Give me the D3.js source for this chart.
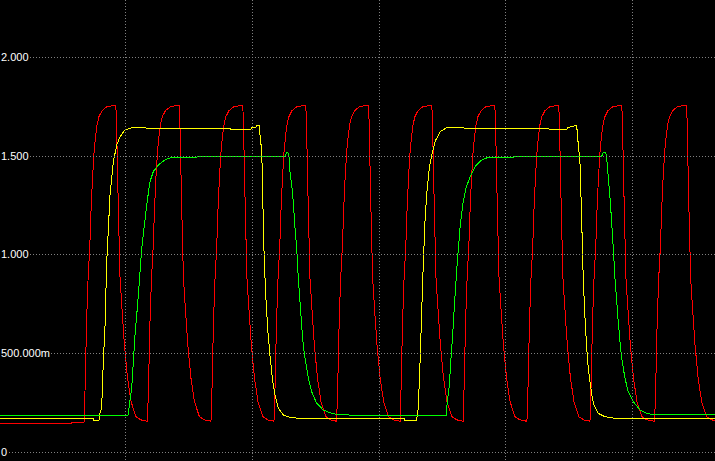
<!DOCTYPE html>
<html>
<head>
<meta charset="utf-8">
<script src="https://cdn.jsdelivr.net/npm/d3@7"></script>
<style>
  html, body { margin: 0; padding: 0; background: #000; }
  svg { display: block; }
</style>
</head>
<body>
<svg id="chart" width="715" height="461"></svg>
<script>
// ---- data (time in ns, voltage in V) ----
const yTickValues = [0, 0.5, 1.0, 1.5, 2.0];
const yTickLabels = ["0", "500.000m", "1.000", "1.500", "2.000"];
const timeGridValues = [100, 200, 300, 400, 500];

const redTrace = [
  [0,0.147],[57.8,0.147],[57.8,0.152],[66.9,0.152],
  [67.3,0.155],[68.1,0.32],[69.3,0.66],[70.5,0.88],[71.9,1.05],[72.8,1.22],[74.0,1.39],[75.2,1.52],[76.4,1.60],[77.6,1.66],[79.1,1.70],[81.5,1.73],[85.4,1.75],[92.3,1.758],[92.8,1.70],[93.3,1.55],[94.4,1.22],[95.7,0.88],[97.7,0.68],[99.2,0.54],[101.6,0.376],[104.4,0.256],[108.3,0.18],[112.3,0.164],
  [117.3,0.157],[118.1,0.32],[119.3,0.66],[120.5,0.88],[121.9,1.05],[122.8,1.22],[124.0,1.39],[125.2,1.52],[126.4,1.60],[127.6,1.66],[129.1,1.70],[131.5,1.73],[135.4,1.75],[142.3,1.758],[142.8,1.70],[143.3,1.55],[144.4,1.22],[145.7,0.88],[147.7,0.68],[149.2,0.54],[151.6,0.376],[154.4,0.256],[158.3,0.18],[162.3,0.164],
  [167.4,0.157],[168.2,0.32],[169.4,0.66],[170.6,0.88],[172.0,1.05],[172.9,1.22],[174.1,1.39],[175.3,1.52],[176.5,1.60],[177.7,1.66],[179.2,1.70],[181.6,1.73],[185.5,1.75],[192.4,1.758],[192.9,1.70],[193.4,1.55],[194.5,1.22],[195.8,0.88],[197.8,0.68],[199.3,0.54],[201.7,0.376],[204.5,0.256],[208.4,0.18],[212.4,0.164],
  [217.1,0.157],[217.9,0.32],[219.1,0.66],[220.3,0.88],[221.7,1.05],[222.6,1.22],[223.8,1.39],[225.0,1.52],[226.2,1.60],[227.4,1.66],[228.9,1.70],[231.3,1.73],[235.2,1.75],[242.1,1.758],[242.6,1.70],[243.1,1.55],[244.2,1.22],[245.5,0.88],[247.5,0.68],[249.0,0.54],[251.4,0.376],[254.2,0.256],[258.1,0.18],[262.1,0.164],
  [266.5,0.157],[267.3,0.32],[268.5,0.66],[269.7,0.88],[271.1,1.05],[272.0,1.22],[273.2,1.39],[274.4,1.52],[275.6,1.60],[276.8,1.66],[278.3,1.70],[280.7,1.73],[284.6,1.75],[291.5,1.758],[292.0,1.70],[292.5,1.55],[293.6,1.22],[294.9,0.88],[296.9,0.68],[298.4,0.54],[300.8,0.376],[303.6,0.256],[307.5,0.18],[311.5,0.164],
  [316.5,0.157],[317.3,0.32],[318.5,0.66],[319.7,0.88],[321.1,1.05],[322.0,1.22],[323.2,1.39],[324.4,1.52],[325.6,1.60],[326.8,1.66],[328.3,1.70],[330.7,1.73],[334.6,1.75],[341.5,1.758],[342.0,1.70],[342.5,1.55],[343.6,1.22],[344.9,0.88],[346.9,0.68],[348.4,0.54],[350.8,0.376],[353.6,0.256],[357.5,0.18],[361.5,0.164],
  [366.2,0.157],[367.0,0.32],[368.2,0.66],[369.4,0.88],[370.8,1.05],[371.7,1.22],[372.9,1.39],[374.1,1.52],[375.3,1.60],[376.5,1.66],[378.0,1.70],[380.4,1.73],[384.3,1.75],[391.2,1.758],[391.7,1.70],[392.2,1.55],[393.3,1.22],[394.6,0.88],[396.6,0.68],[398.1,0.54],[400.5,0.376],[403.3,0.256],[407.2,0.18],[411.2,0.164],
  [416.6,0.157],[417.4,0.32],[418.6,0.66],[419.8,0.88],[421.2,1.05],[422.1,1.22],[423.3,1.39],[424.5,1.52],[425.7,1.60],[426.9,1.66],[428.4,1.70],[430.8,1.73],[434.7,1.75],[441.6,1.758],[442.1,1.70],[442.6,1.55],[443.7,1.22],[445.0,0.88],[447.0,0.68],[448.5,0.54],[450.9,0.376],[453.7,0.256],[457.6,0.18],[461.6,0.164],
  [466.3,0.157],[467.1,0.32],[468.3,0.66],[469.5,0.88],[470.9,1.05],[471.8,1.22],[473.0,1.39],[474.2,1.52],[475.4,1.60],[476.6,1.66],[478.1,1.70],[480.5,1.73],[484.4,1.75],[491.3,1.758],[491.8,1.70],[492.3,1.55],[493.4,1.22],[494.7,0.88],[496.7,0.68],[498.2,0.54],[500.6,0.376],[503.4,0.256],[507.3,0.18],[511.3,0.164],
  [517.3,0.157],[518.1,0.32],[519.3,0.66],[520.5,0.88],[521.9,1.05],[522.8,1.22],[524.0,1.39],[525.2,1.52],[526.4,1.60],[527.6,1.66],[529.1,1.70],[531.5,1.73],[535.4,1.75],[542.3,1.758],[542.8,1.70],[543.3,1.55],[544.4,1.22],[545.7,0.88],[547.7,0.68],[549.2,0.54],[551.6,0.376],[554.4,0.256],[558.3,0.18],[562.3,0.164],
  [565,0.162]
];

const yellowTrace = [
  [0,0.169],[74.4,0.169],[74.4,0.162],[79.1,0.162],[79.9,0.20],[81.2,0.224],[82.5,0.459],[83.8,0.629],[85.2,0.965],[87.8,1.303],[90.4,1.471],[93.1,1.556],[95.7,1.598],[99.6,1.632],[106.1,1.646],[115.4,1.646],[116.7,1.641],[182.4,1.641],[182.8,1.635],[199.0,1.635],[199.4,1.645],[202.9,1.645],[203.3,1.656],[205.3,1.656],
  [206.9,1.556],[207.9,1.438],[208.7,1.134],[209.5,0.965],[210.6,0.796],[212.1,0.628],[213.9,0.493],[215.8,0.375],[217.9,0.29],[220.5,0.223],[224.5,0.189],[229.7,0.177],[241.6,0.169],[320.4,0.169],[320.4,0.162],[329.6,0.162],
  [330.9,0.224],[332.3,0.459],[333.6,0.712],[334.9,0.965],[336.2,1.168],[337.5,1.303],[339.6,1.438],[341.5,1.505],[344.1,1.573],[348.0,1.623],[353.3,1.644],[366.4,1.644],[367.7,1.638],[433.4,1.638],[434.8,1.635],[447.9,1.635],[449.2,1.646],[453.2,1.649],[454.5,1.656],[455.8,1.656],
  [457.1,1.556],[458.4,1.471],[459.2,1.303],[460.3,1.05],[461.0,0.881],[462.4,0.678],[463.7,0.527],[465.0,0.425],[466.3,0.358],[467.7,0.29],[469.5,0.24],[472.9,0.197],[478.2,0.18],[486.0,0.172],[492.6,0.169],[565,0.169]
];

const greenTrace = [
  [0,0.187],[101.2,0.187],[102.2,0.19],[103.0,0.24],[104.9,0.324],[106.2,0.459],[107.5,0.594],[109.3,0.729],[110.9,0.864],[112.8,1.033],[114.6,1.134],[116.7,1.252],[119.3,1.37],[121.9,1.421],[125.9,1.455],[131.1,1.48],[136.4,1.494],[156.1,1.494],[157.4,1.499],[225.8,1.499],[227.0,1.517],[228.1,1.517],
  [229.2,1.489],[229.7,1.421],[231.1,1.353],[232.3,1.269],[233.7,1.134],[235.0,1.033],[236.3,0.881],[237.6,0.763],[238.9,0.645],[240.2,0.543],[241.6,0.476],[244.2,0.375],[246.8,0.307],[250.8,0.248],[256.0,0.214],[262.6,0.197],[269.2,0.189],[352.8,0.187],
  [353.8,0.256],[355.4,0.341],[356.5,0.459],[358.0,0.594],[359.9,0.796],[361.7,0.965],[363.8,1.134],[365.9,1.252],[368.5,1.337],[371.7,1.395],[375.6,1.446],[380.9,1.48],[386.1,1.494],[405.8,1.494],[407.2,1.499],[475.6,1.499],[476.8,1.519],[478.7,1.519],
  [479.5,1.489],[480.8,1.387],[482.1,1.286],[483.4,1.168],[484.7,1.033],[486.0,0.881],[487.4,0.763],[488.6,0.661],[490.0,0.56],[491.3,0.476],[493.9,0.375],[496.5,0.307],[500.5,0.256],[505.8,0.214],[511.0,0.197],[517.6,0.189],[565,0.189]
];

const traces = [
  { name: "red", color: "#ff0000", values: redTrace },
  { name: "yellow", color: "#ffff00", values: yellowTrace },
  { name: "green", color: "#00ff00", values: greenTrace }
];

// ---- drawing ----
const W = 715, H = 461;
const svg = d3.select("#chart");
svg.append("rect").attr("width", W).attr("height", H).attr("fill", "#000");

const x = d3.scaleLinear().domain([0, 500]).range([-1.3, 632.7]);
const y = d3.scaleLinear().domain([0, 2]).range([452.3, 57.3]);

const line = d3.line().x(d => x(d[0])).y(d => y(d[1]));

const gTraces = svg.append("g");
gTraces.selectAll("path").data(traces).enter().append("path")
  .attr("d", d => line(d.values))
  .attr("fill", "none")
  .attr("stroke", d => d.color)
  .attr("stroke-width", 1)
  .attr("shape-rendering", "crispEdges");

const gGrid = svg.append("g");
const gLabels = svg.append("g");

gGrid.selectAll("line.v").data(timeGridValues).enter().append("line")
  .attr("class", "v")
  .attr("x1", d => Math.floor(x(d)) + 0.5)
  .attr("x2", d => Math.floor(x(d)) + 0.5)
  .attr("y1", 0).attr("y2", H)
  .attr("stroke", "#808080")
  .attr("stroke-dasharray", "1,2")
  .attr("shape-rendering", "crispEdges");

yTickValues.forEach((v, i) => {
  const yy = Math.floor(y(v)) + 0.5;
  const t = gLabels.append("text")
    .attr("x", 1)
    .attr("y", Math.floor(y(v)) + 4)
    .attr("fill", "#ffffff")
    .attr("font-family", "'Liberation Sans', Arial, sans-serif")
    .attr("font-size", "11px")
    .text(yTickLabels[i]);
  const len = t.node().getComputedTextLength();
  gGrid.append("line")
    .attr("x1", Math.ceil(len) + 2).attr("x2", W)
    .attr("y1", yy).attr("y2", yy)
    .attr("stroke", "#808080")
    .attr("stroke-dasharray", "1,2")
    .attr("shape-rendering", "crispEdges");
});
</script>
</body>
</html>
